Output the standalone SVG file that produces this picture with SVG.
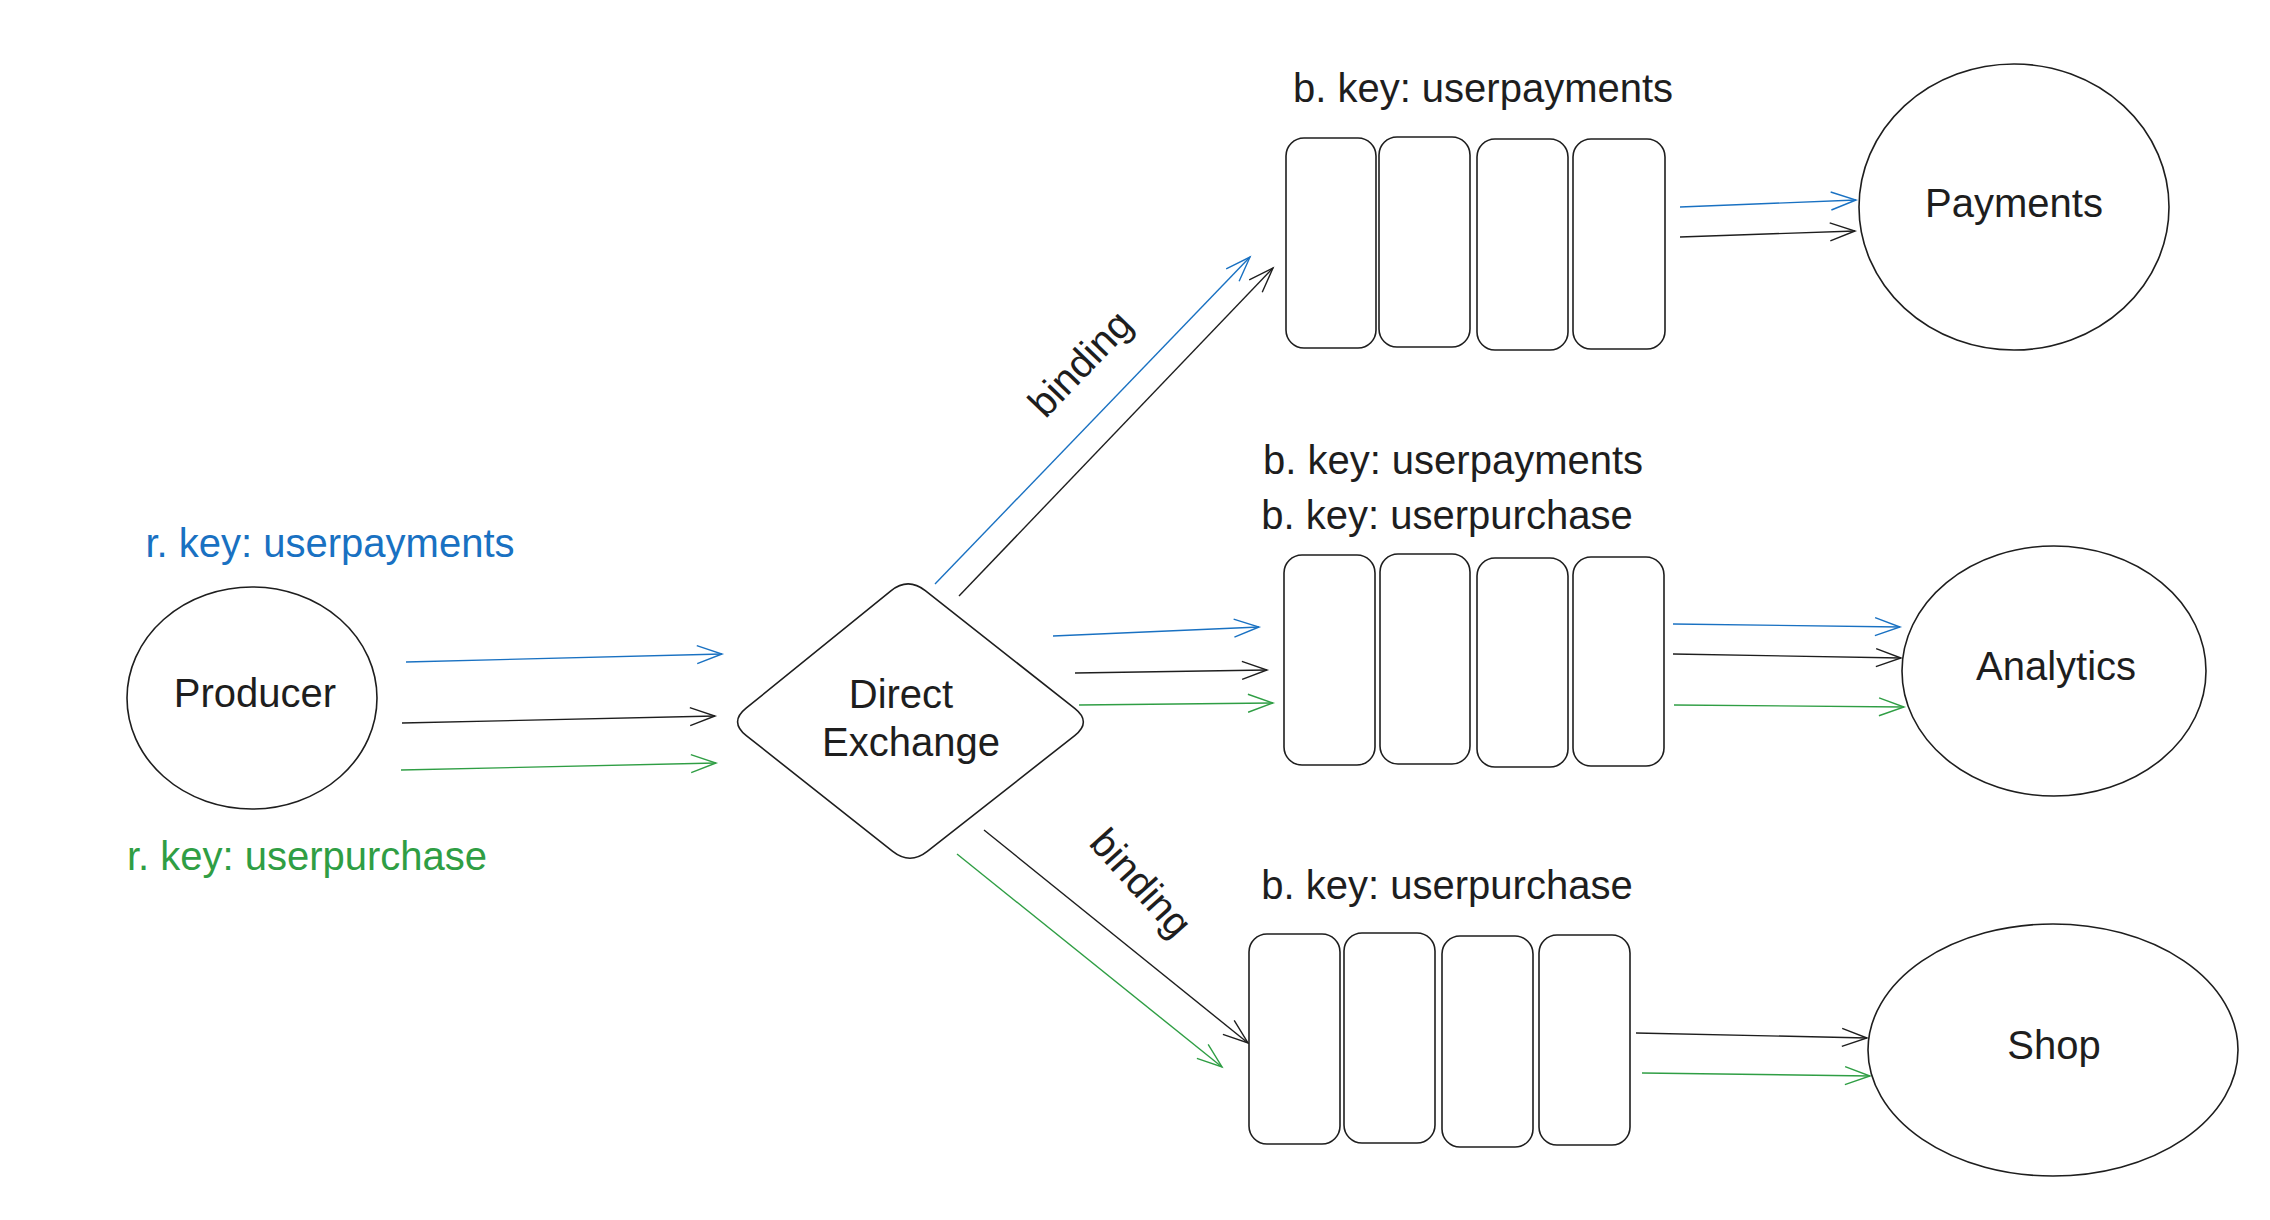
<svg xmlns="http://www.w3.org/2000/svg" width="2270" height="1220" viewBox="0 0 2270 1220">
<style>
  .t{font-family:"Liberation Sans",Arial,sans-serif;font-size:40px;fill:#1e1e1e;text-anchor:middle}
  .blue{fill:#1971c2}
  .green{fill:#2f9e44}
  .shape{fill:#ffffff;stroke:#1e1e1e;stroke-width:1.6}
  .q{fill:#ffffff;stroke:#1e1e1e;stroke-width:1.6}
  .ab{fill:none;stroke:#1971c2;stroke-width:1.4;marker-end:url(#mb)}
  .ak{fill:none;stroke:#1e1e1e;stroke-width:1.4;marker-end:url(#mk)}
  .ag{fill:none;stroke:#2f9e44;stroke-width:1.4;marker-end:url(#mg)}
</style>
<defs>
  <marker id="mb" markerUnits="userSpaceOnUse" orient="auto" refX="0" refY="0" markerWidth="60" markerHeight="60" viewBox="-30 -30 60 60" overflow="visible">
    <path d="M -25 -9 L 0 0 L -25 9" fill="none" stroke="#1971c2" stroke-width="1.4"/>
  </marker>
  <marker id="mk" markerUnits="userSpaceOnUse" orient="auto" refX="0" refY="0" markerWidth="60" markerHeight="60" viewBox="-30 -30 60 60" overflow="visible">
    <path d="M -25 -9 L 0 0 L -25 9" fill="none" stroke="#1e1e1e" stroke-width="1.4"/>
  </marker>
  <marker id="mg" markerUnits="userSpaceOnUse" orient="auto" refX="0" refY="0" markerWidth="60" markerHeight="60" viewBox="-30 -30 60 60" overflow="visible">
    <path d="M -25 -9 L 0 0 L -25 9" fill="none" stroke="#2f9e44" stroke-width="1.4"/>
  </marker>
</defs>
<rect width="2270" height="1220" fill="#ffffff"/>

<g id="connectors">
  <path class="ab" d="M 406 662 L 722 654"/>
  <path class="ak" d="M 402 723 L 715 716"/>
  <path class="ag" d="M 401 770 L 716 763"/>

  <path class="ab" d="M 935 584 L 1250 257"/>
  <path class="ak" d="M 959 596 L 1273 268"/>

  <path class="ab" d="M 1053 636 L 1259 627"/>
  <path class="ak" d="M 1075 673 L 1267 670"/>
  <path class="ag" d="M 1079 705 L 1273 703"/>

  <path class="ak" d="M 984 830 L 1248 1043"/>
  <path class="ag" d="M 957 854 L 1222 1067"/>

  <path class="ab" d="M 1680 207 L 1856 200"/>
  <path class="ak" d="M 1680 237 L 1855 231"/>

  <path class="ab" d="M 1673 624 L 1900 627"/>
  <path class="ak" d="M 1673 654 L 1901 658"/>
  <path class="ag" d="M 1674 705 L 1904 707"/>

  <path class="ak" d="M 1636 1033 L 1867 1038"/>
  <path class="ag" d="M 1642 1073 L 1870 1076"/>

  <text class="t" transform="translate(1090 373) rotate(-46)" x="0" y="0">binding</text>
  <text class="t" transform="translate(1131 892) rotate(48)" x="0" y="0">binding</text>
</g>

<g id="producer-labels">
  <text class="t blue" x="330" y="557">r. key: userpayments</text>
  <text class="t green" x="307" y="870">r. key: userpurchase</text>
</g>

<g id="producer">
  <ellipse class="shape" cx="252" cy="698" rx="125" ry="111"/>
  <text class="t" x="255" y="707">Producer</text>
</g>

<g id="exchange">
  <path class="shape" d="M 746.1 708.2 L 890.9 590.8 Q 908 577 925.3 590.6 L 1074.7 708.4 Q 1092 722 1074.7 735.6 L 927.3 851.4 Q 910 865 892.7 851.4 L 746.3 735.6 Q 729 722 746.1 708.2 Z"/>
  <text class="t" x="901" y="708">Direct</text>
  <text class="t" x="911" y="756">Exchange</text>
</g>

<g id="queue-payments">
  <text class="t" x="1483" y="102">b. key: userpayments</text>
  <rect class="q" x="1286" y="138" width="90" height="210" rx="18"/>
  <rect class="q" x="1379" y="137" width="91" height="210" rx="18"/>
  <rect class="q" x="1477" y="139" width="91" height="211" rx="18"/>
  <rect class="q" x="1573" y="139" width="92" height="210" rx="18"/>
</g>

<g id="queue-analytics">
  <text class="t" x="1453" y="474">b. key: userpayments</text>
  <text class="t" x="1447" y="529">b. key: userpurchase</text>
  <rect class="q" x="1284" y="555" width="91" height="210" rx="18"/>
  <rect class="q" x="1380" y="554" width="90" height="210" rx="18"/>
  <rect class="q" x="1477" y="558" width="91" height="209" rx="18"/>
  <rect class="q" x="1573" y="557" width="91" height="209" rx="18"/>
</g>

<g id="queue-shop">
  <text class="t" x="1447" y="899">b. key: userpurchase</text>
  <rect class="q" x="1249" y="934" width="91" height="210" rx="18"/>
  <rect class="q" x="1344" y="933" width="91" height="210" rx="18"/>
  <rect class="q" x="1442" y="936" width="91" height="211" rx="18"/>
  <rect class="q" x="1539" y="935" width="91" height="210" rx="18"/>
</g>

<g id="payments">
  <ellipse class="shape" cx="2014" cy="207" rx="155" ry="143"/>
  <text class="t" x="2014" y="217">Payments</text>
</g>

<g id="analytics">
  <ellipse class="shape" cx="2054" cy="671" rx="152" ry="125"/>
  <text class="t" x="2056" y="680">Analytics</text>
</g>

<g id="shop">
  <ellipse class="shape" cx="2053" cy="1050" rx="185" ry="126"/>
  <text class="t" x="2054" y="1059">Shop</text>
</g>
</svg>
